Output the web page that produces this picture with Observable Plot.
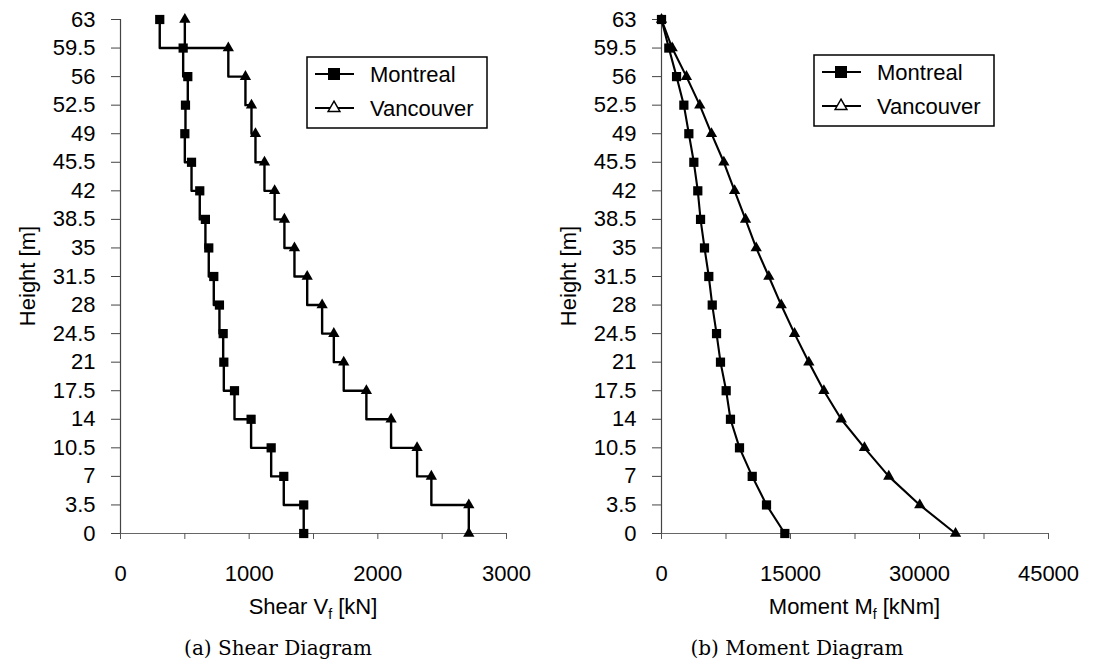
<!DOCTYPE html>
<html><head><meta charset="utf-8">
<script src="https://cdn.jsdelivr.net/npm/d3@7"></script>
<script src="https://cdn.jsdelivr.net/npm/@observablehq/plot@0.6"></script>
<style>
body{margin:0;background:#fff;}
#wrap{position:relative;width:1095px;height:669px;overflow:hidden;background:#fff;}
#wrap svg{position:absolute;top:0;}
</style></head><body><div id="wrap"></div>
<script>
// ---- data ----
const heights = [63,59.5,56,52.5,49,45.5,42,38.5,35,31.5,28,24.5,21,17.5,14,10.5,7,3.5,0];
const montrealShear  = [305,487,523,505,500,552,616,660,686,725,769,798,803,886,1015,1171,1269,1424,1424];
const vancouverShear = [500,838,971,1018,1049,1119,1198,1274,1352,1451,1567,1658,1735,1911,2103,2305,2416,2707,2707];
const montrealMoment  = [0,850,1750,2600,3180,3760,4220,4540,5000,5500,5900,6400,6860,7520,8020,9070,10550,12210,14340];
const vancouverMoment = [0,1240,2900,4450,5810,7250,8500,9770,11010,12480,13920,15470,17130,18880,20900,23600,26430,30030,34190];
const heightTicks = heights;
const shearTicks = [0,500,1000,1500,2000,2500,3000];
const shearLabels = [0,1000,2000,3000];
const momentTicks = [0,7500,15000,22500,30000,37500,45000];
const momentLabels = [0,15000,30000,45000];
const seriesNames = ["Montreal","Vancouver"];

const FONT = "'Liberation Sans', Arial, Helvetica, sans-serif";
const SERIF = "'DejaVu Serif', 'Liberation Serif', serif";
const FS = 22;

function rows(vals, name){ return heights.map((h,i)=>({h, v: vals[i], s: name})); }

function panel(o){
  const m = rows(o.montreal, seriesNames[0]), v = rows(o.vancouver, seriesNames[1]);
  const svg = Plot.plot({
    width: o.width, height: 669,
    marginLeft: o.marginLeft, marginRight: o.marginRight, marginTop: 19, marginBottom: 136,
    style: {fontFamily: FONT, fontSize: FS + "px", color: "#000", background: "#fff", overflow: "visible"},
    x: {domain: o.xDomain},
    y: {domain: [0, 63]},
    marks: [
      Plot.ruleX([0], {stroke: "#444", strokeWidth: 1.2}),
      Plot.ruleY([0], {stroke: "#666", strokeWidth: 1.2}),
      Plot.axisY({ticks: heightTicks, tickFormat: d => String(d), tickSize: 9, tickPadding: 16,
        label: null, fontSize: FS, stroke: "#444"}),
      Plot.axisX({ticks: o.xTicks, tickFormat: d => o.xLabels.includes(d) ? String(d) : "",
        tickSize: 6, tickPadding: 26, label: null, fontSize: FS, stroke: "#555"}),
      Plot.line(m, {x: "v", y: "h", curve: o.curve, stroke: "#000", strokeWidth: o.lineW}),
      Plot.line(v, {x: "v", y: "h", curve: o.curve, stroke: "#000", strokeWidth: o.lineW}),
      Plot.dot(m, {x: "v", y: "h", symbol: "square", r: 5.2, fill: "#000", stroke: "none"}),
      Plot.dot(v, {x: "v", y: "h", symbol: "triangle", r: 4.2, fill: "#000", stroke: "none"})
    ]
  });
  svg.style.left = o.left + "px";
  const s = d3.select(svg);
  const cx = o.marginLeft + (o.width - o.marginLeft - o.marginRight) / 2;
  // y title
  s.append("text").attr("transform", `translate(${o.marginLeft - 93},276) rotate(-90)`)
    .attr("text-anchor", "middle").attr("dominant-baseline", "central")
    .attr("font-family", FONT).attr("font-size", FS).text("Height [m]");
  // x title with subscript
  const t = s.append("text").attr("x", cx).attr("y", 614).attr("text-anchor", "middle")
    .attr("font-family", FONT).attr("font-size", FS);
  t.append("tspan").text(o.xTitle);
  t.append("tspan").attr("dy", 5).attr("font-size", 14).text("f");
  t.append("tspan").attr("dy", -5).text(" " + o.xUnit);
  // caption
  s.append("text").attr("x", o.captionX).attr("y", 655).attr("text-anchor", "middle")
    .attr("font-family", SERIF).attr("font-size", 20).text(o.caption);
  // legend
  const L = s.append("g").attr("transform", `translate(${o.legX},${o.legY})`);
  L.append("rect").attr("x", 0).attr("y", 0).attr("width", 180).attr("height", 71)
    .attr("fill", "#fff").attr("stroke", "#000").attr("stroke-width", 1.5);
  const rowsY = [17, 51];
  rowsY.forEach((yy, i) => {
    L.append("line").attr("x1", 8).attr("x2", 47).attr("y1", yy).attr("y2", yy)
      .attr("stroke", "#000").attr("stroke-width", 2.2);
    if (i === 0) {
      L.append("rect").attr("x", 27 - 6).attr("y", yy - 6).attr("width", 12).attr("height", 12).attr("fill", "#000");
    } else {
      L.append("path").attr("d", d3.symbol(d3.symbolTriangle, 60)()).attr("transform", `translate(27,${yy})`)
        .attr("fill", "#fff").attr("stroke", "#000").attr("stroke-width", 1.5);
    }
    L.append("text").attr("x", 63).attr("y", yy).attr("dominant-baseline", "central")
      .attr("text-anchor", "start")
      .attr("font-family", FONT).attr("font-size", FS).text(seriesNames[i]);
  });
  document.getElementById("wrap").appendChild(svg);
}

panel({left: 0, width: 547, marginLeft: 120, marginRight: 41, xDomain: [0, 3000],
  xTicks: shearTicks, xLabels: shearLabels, montreal: montrealShear, vancouver: vancouverShear,
  curve: "step-before", lineW: 2.4, xTitle: "Shear V", xUnit: "[kN]", caption: "(a) Shear Diagram",
  captionX: 278, legX: 307, legY: 57});
panel({left: 547, width: 548, marginLeft: 114, marginRight: 47, xDomain: [0, 45000],
  xTicks: momentTicks, xLabels: momentLabels, montreal: montrealMoment, vancouver: vancouverMoment,
  curve: "linear", lineW: 2.1, xTitle: "Moment M", xUnit: "[kNm]", caption: "(b) Moment Diagram",
  captionX: 250, legX: 267, legY: 55});
</script></body></html>
